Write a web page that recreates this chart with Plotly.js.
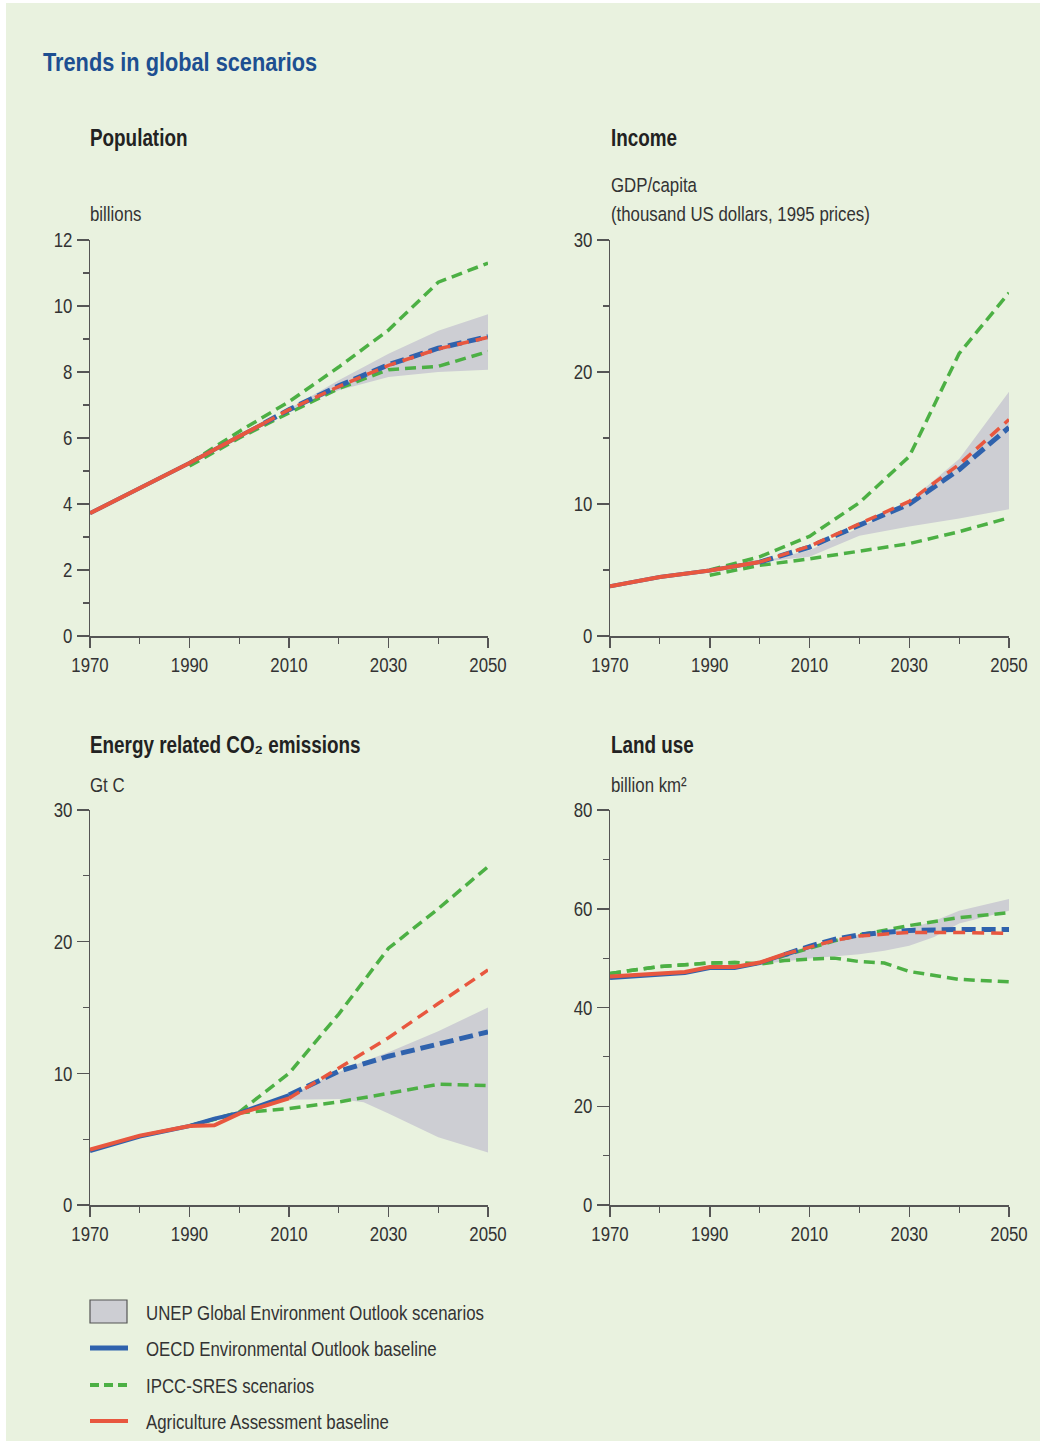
<!DOCTYPE html>
<html>
<head>
<meta charset="utf-8">
<script src="https://cdn.plot.ly/plotly-3.0.1.min.js"></script>
<style>html,body{margin:0;padding:0;background:#ffffff;}#chart{width:1045px;height:1447px;}</style>
</head>
<body>
<div id="chart"></div>
<script>
// ---------- Population (billions) ----------
const popHistYears = [1970, 1980, 1990, 2000, 2005];
const popHist = [3.72, 4.47, 5.24, 6.05, 6.45];
const popProjYears = [2005, 2010, 2020, 2030, 2040, 2050];
const popOecd = [6.45, 6.86, 7.58, 8.22, 8.72, 9.07];
const popAgri = [6.45, 6.86, 7.56, 8.20, 8.70, 9.05];
const popIpccYears = [1990, 2000, 2010, 2020, 2030, 2040, 2050];
const popIpccHigh = [5.24, 6.20, 7.10, 8.15, 9.27, 10.72, 11.30];
const popIpccLow = [5.15, 6.00, 6.76, 7.50, 8.07, 8.17, 8.62];
const popUnepYears = [2010, 2020, 2030, 2040, 2050];
const popUnepLow = [6.84, 7.45, 7.85, 8.00, 8.07];
const popUnepHigh = [6.88, 7.75, 8.55, 9.25, 9.75];

// ---------- Income (GDP/capita, thousand US$ 1995) ----------
const incHistYears = [1970, 1980, 1990, 2000];
const incHist = [3.76, 4.47, 4.97, 5.60];
const incProjYears = [2000, 2010, 2020, 2030, 2040, 2050];
const incOecd = [5.60, 6.74, 8.40, 10.00, 12.60, 15.80];
const incAgri = [5.60, 6.80, 8.50, 10.20, 13.00, 16.40];
const incIpccYears = [1990, 2000, 2010, 2020, 2030, 2040, 2050];
const incIpccHigh = [5.00, 6.00, 7.55, 10.10, 13.60, 21.40, 26.00];
const incIpccLow = [4.60, 5.35, 5.85, 6.40, 7.00, 7.90, 8.96];
const incUnepYears = [2000, 2010, 2020, 2030, 2040, 2050];
const incUnepLow = [5.60, 6.00, 7.60, 8.30, 8.90, 9.60];
const incUnepHigh = [5.60, 6.50, 8.20, 10.20, 13.40, 18.50];

// ---------- Energy related CO2 emissions (Gt C) ----------
const co2HistYears = [1970, 1980, 1990, 1995, 2000, 2005, 2010];
const co2HistOecd = [4.10, 5.20, 6.00, 6.55, 7.00, 7.70, 8.35];
const co2HistAgri = [4.20, 5.27, 6.00, 6.05, 6.94, 7.55, 8.10];
const co2ProjYears = [2010, 2020, 2030, 2040, 2050];
const co2Oecd = [8.35, 10.15, 11.30, 12.20, 13.15];
const co2Agri = [8.10, 10.40, 12.70, 15.30, 17.85];
const co2IpccYears = [1990, 2000, 2010, 2020, 2030, 2040, 2050];
const co2IpccHigh = [6.00, 7.06, 10.00, 14.50, 19.50, 22.50, 25.70];
const co2IpccLow = [6.00, 7.00, 7.32, 7.83, 8.48, 9.17, 9.07];
const co2UnepYears = [2010, 2015, 2020, 2025, 2030, 2040, 2050];
const co2UnepLow = [8.00, 8.05, 8.05, 7.80, 6.94, 5.14, 3.98];
const co2UnepHigh = [8.30, 9.20, 10.10, 10.90, 11.60, 13.20, 15.00];

// ---------- Land use (billion km2) ----------
const landHistYears = [1970, 1980, 1985, 1990, 1995, 2000, 2005];
const landHistOecd = [46.0, 46.6, 47.0, 48.0, 48.0, 49.0, 50.7];
const landHistAgri = [46.3, 46.9, 47.2, 48.2, 48.2, 49.1, 50.8];
const landProjYears = [2005, 2010, 2015, 2020, 2025, 2030, 2040, 2050];
const landOecd = [50.7, 52.4, 53.8, 54.7, 55.2, 55.6, 55.8, 55.8];
const landAgri = [50.8, 52.2, 53.6, 54.5, 54.9, 55.2, 55.2, 55.0];
const landIpccYears = [1970, 1980, 1990, 1995, 2000, 2005, 2010, 2015, 2020, 2025, 2030, 2040, 2050];
const landIpccHigh = [46.9, 48.3, 49.0, 49.1, 48.8, 50.5, 52.0, 53.5, 54.7, 55.7, 56.6, 58.2, 59.2];
const landIpccLow = [46.9, 48.3, 49.0, 49.1, 48.8, 49.5, 49.8, 50.0, 49.3, 49.0, 47.3, 45.7, 45.2];
const landUnepYears = [1995, 2000, 2010, 2020, 2025, 2030, 2035, 2040, 2050];
const landUnepLow = [48.2, 48.8, 49.9, 50.8, 51.5, 52.5, 54.3, 57.0, 59.6];
const landUnepHigh = [48.3, 49.3, 52.5, 54.8, 55.5, 56.0, 57.5, 59.6, 62.0];

// ---------- Text ----------
const chartTitle = 'Trends in global scenarios';
const panelTitles = ['Population', 'Income', 'Energy related CO\u2082 emissions', 'Land use'];
const panelUnits = ['billions', 'GDP/capita', '(thousand US dollars, 1995 prices)', 'Gt C', 'billion km\u00B2'];
const legendLabels = ['UNEP Global Environment Outlook scenarios', 'OECD Environmental Outlook baseline', 'IPCC-SRES scenarios', 'Agriculture Assessment baseline'];

// ---------- Styling ----------
const W = 1045, H = 1447;
const BG = '#e9f2df';
const BLUE = '#2f62ad', RED = '#e8573f', GREEN = '#4cb044', BAND = '#cdced3';
const AXC = '#555555';
const FONT = '"Liberation Sans", Arial, sans-serif';
const SQUEEZE = 0.82; // emulate a narrow typeface
const px = v => v / W;
const py = v => 1 - v / H;

const panels = [
  {xa: 'x', ya: 'y', hY: popHistYears, hO: popHist, hA: popHist, pY: popProjYears, pO: popOecd, pA: popAgri,
   iY: popIpccYears, iH: popIpccHigh, iL: popIpccLow, uY: popUnepYears, uL: popUnepLow, uH: popUnepHigh},
  {xa: 'x2', ya: 'y2', hY: incHistYears, hO: incHist, hA: incHist, pY: incProjYears, pO: incOecd, pA: incAgri,
   iY: incIpccYears, iH: incIpccHigh, iL: incIpccLow, uY: incUnepYears, uL: incUnepLow, uH: incUnepHigh},
  {xa: 'x3', ya: 'y3', hY: co2HistYears, hO: co2HistOecd, hA: co2HistAgri, pY: co2ProjYears, pO: co2Oecd, pA: co2Agri,
   iY: co2IpccYears, iH: co2IpccHigh, iL: co2IpccLow, uY: co2UnepYears, uL: co2UnepLow, uH: co2UnepHigh},
  {xa: 'x4', ya: 'y4', hY: landHistYears, hO: landHistOecd, hA: landHistAgri, pY: landProjYears, pO: landOecd, pA: landAgri,
   iY: landIpccYears, iH: landIpccHigh, iL: landIpccLow, uY: landUnepYears, uL: landUnepLow, uH: landUnepHigh}
];

const traces = [];
panels.forEach(p => {
  const common = {xaxis: p.xa, yaxis: p.ya, mode: 'lines', showlegend: false, hoverinfo: 'x+y'};
  traces.push(Object.assign({}, common, {
    x: p.uY.concat(p.uY.slice().reverse()),
    y: p.uL.concat(p.uH.slice().reverse()),
    fill: 'toself', fillcolor: BAND, line: {width: 0, color: BAND}, name: legendLabels[0]
  }));
  traces.push(Object.assign({}, common, {x: p.iY, y: p.iH, line: {color: GREEN, width: 3.5, dash: '11px,6px'}, name: legendLabels[2]}));
  traces.push(Object.assign({}, common, {x: p.iY, y: p.iL, line: {color: GREEN, width: 3.5, dash: '11px,6px'}, name: legendLabels[2]}));
  traces.push(Object.assign({}, common, {x: p.hY, y: p.hO, line: {color: BLUE, width: 4}, name: legendLabels[1]}));
  traces.push(Object.assign({}, common, {x: p.pY, y: p.pO, line: {color: BLUE, width: 5, dash: '14px,6px'}, name: legendLabels[1]}));
  traces.push(Object.assign({}, common, {x: p.hY, y: p.hA, line: {color: RED, width: 4}, name: legendLabels[3]}));
  traces.push(Object.assign({}, common, {x: p.pY, y: p.pA, line: {color: RED, width: 3.5, dash: '12px,7px'}, name: legendLabels[3]}));
});

function xaxisDef(domain, anchor) {
  return {
    domain: domain, anchor: anchor, range: [1970, 2050], tickvals: [1970, 1990, 2010, 2030, 2050],
    showline: true, linecolor: AXC, linewidth: 1.5, ticks: 'outside', ticklen: 10, tickwidth: 1.5, tickcolor: AXC,
    minor: {tickvals: [1980, 2000, 2020, 2040], ticks: 'outside', ticklen: 6, tickwidth: 1.2, tickcolor: AXC},
    showgrid: false, zeroline: false, fixedrange: true,
    tickfont: {family: FONT, size: 20.5, color: '#333333'}
  };
}
function yaxisDef(domain, anchor, max, dtick) {
  return {
    domain: domain, anchor: anchor, range: [0, max], dtick: dtick, tick0: 0,
    showline: true, linecolor: AXC, linewidth: 1.5, ticks: 'outside', ticklen: 12, tickwidth: 1.5, tickcolor: AXC,
    minor: {dtick: dtick / 2, ticks: 'outside', ticklen: 6, tickwidth: 1.2, tickcolor: AXC},
    showgrid: false, zeroline: false, fixedrange: true,
    tickfont: {family: FONT, size: 20.5, color: '#333333'}
  };
}

const xL = [px(90), px(488)], xR = [px(610), px(1009)];
const yT = [py(636), py(240)], yB = [py(1205), py(810)];

function note(text, x, y, size, color, bold) {
  return {text: bold ? '<b>' + text + '</b>' : text, xref: 'paper', yref: 'paper', x: px(x), y: py(y),
    xanchor: 'left', yanchor: 'middle', align: 'left', showarrow: false, borderpad: 0,
    font: {family: FONT, size: size, color: color}};
}

const annotations = [
  note(chartTitle, 42, 62, 26.5, '#1d4f91', true),
  note(panelTitles[0], 89, 138, 23, '#222222', true),
  note(panelUnits[0], 89, 214, 20.5, '#333333', false),
  note(panelTitles[1], 610, 138, 23, '#222222', true),
  note(panelUnits[1], 610, 184, 20.5, '#333333', false),
  note(panelUnits[2], 610, 214, 20.5, '#333333', false),
  note(panelTitles[2], 89, 745, 23, '#222222', true),
  note(panelUnits[3], 89, 784, 20.5, '#333333', false),
  note(panelTitles[3], 610, 745, 23, '#222222', true),
  note(panelUnits[4], 610, 784, 20.5, '#333333', false),
  note(legendLabels[0], 145, 1312, 20.5, '#333333', false),
  note(legendLabels[1], 145, 1348, 20.5, '#333333', false),
  note(legendLabels[2], 145, 1385, 20.5, '#333333', false),
  note(legendLabels[3], 145, 1421, 20.5, '#333333', false)
];

const shapes = [
  {type: 'rect', xref: 'paper', yref: 'paper', x0: px(6), x1: px(1040), y0: py(3), y1: py(1441), fillcolor: BG, line: {width: 0}, layer: 'below'},
  {type: 'rect', xref: 'paper', yref: 'paper', x0: px(90), x1: px(127), y0: py(1300), y1: py(1323), fillcolor: BAND, line: {color: '#555555', width: 1.2}},
  {type: 'line', xref: 'paper', yref: 'paper', x0: px(90), x1: px(128), y0: py(1348), y1: py(1348), line: {color: BLUE, width: 5}},
  {type: 'line', xref: 'paper', yref: 'paper', x0: px(90), x1: px(128), y0: py(1385), y1: py(1385), line: {color: GREEN, width: 4, dash: '9px,5px'}},
  {type: 'line', xref: 'paper', yref: 'paper', x0: px(90), x1: px(128), y0: py(1421), y1: py(1421), line: {color: RED, width: 4}}
];

const layout = {
  width: W, height: H, margin: {l: 0, r: 0, t: 0, b: 0}, autosize: false,
  paper_bgcolor: '#ffffff', plot_bgcolor: '#ffffff', showlegend: false,
  xaxis: xaxisDef(xL, 'y'), yaxis: yaxisDef(yT, 'x', 12, 2),
  xaxis2: xaxisDef(xR, 'y2'), yaxis2: yaxisDef(yT, 'x2', 30, 10),
  xaxis3: xaxisDef(xL, 'y3'), yaxis3: yaxisDef(yB, 'x3', 30, 10),
  xaxis4: xaxisDef(xR, 'y4'), yaxis4: yaxisDef(yB, 'x4', 80, 20),
  annotations: annotations, shapes: shapes
};

Plotly.newPlot('chart', traces, layout, {displayModeBar: false, staticPlot: true}).then(gd => {
  // horizontally condense all texts to mimic the narrow typeface of the original
  gd.querySelectorAll('text').forEach(t => {
    const w = t.getComputedTextLength();
    if (w > 0) {
      t.setAttribute('textLength', (w * SQUEEZE).toFixed(2));
      t.setAttribute('lengthAdjust', 'spacingAndGlyphs');
    }
  });
});
</script>
</body>
</html>
